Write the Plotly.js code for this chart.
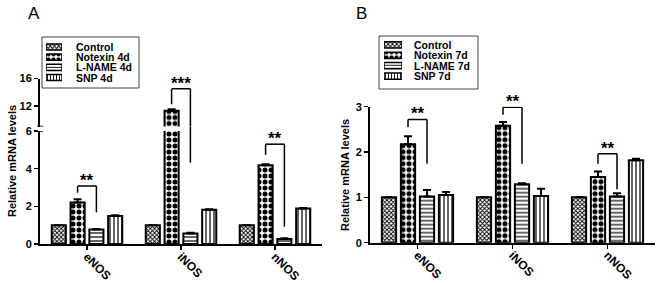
<!DOCTYPE html>
<html><head><meta charset="utf-8">
<script src="https://cdn.plot.ly/plotly-3.0.1.min.js"></script>
<style>html,body{margin:0;padding:0;background:#fff}#plot{width:664px;height:284px}</style>
</head><body><div id="plot"></div>
<script>
// ---------- data ----------
const categories = ['eNOS', 'iNOS', 'nNOS'];
const groupsA = ['Control', 'Notexin 4d', 'L-NAME 4d', 'SNP 4d'];
const groupsB = ['Control', 'Notexin 7d', 'L-NAME 7d', 'SNP 7d'];

const controlA = [1.0, 1.0, 1.0];
const notexinA = [2.2, 11.3, 4.18];
const lnameA   = [0.77, 0.56, 0.27];
const snpA     = [1.49, 1.82, 1.88];
const controlAErr = [0, 0, 0];
const notexinAErr = [0.17, 0.2, 0.05];
const lnameAErr   = [0.03, 0.04, 0.03];
const snpAErr     = [0.03, 0.03, 0.03];

const controlB = [1.0, 1.0, 1.0];
const notexinB = [2.17, 2.58, 1.45];
const lnameB   = [1.02, 1.29, 1.02];
const snpB     = [1.05, 1.03, 1.82];
const controlBErr = [0, 0, 0];
const notexinBErr = [0.18, 0.08, 0.12];
const lnameBErr   = [0.14, 0.02, 0.07];
const snpBErr     = [0.07, 0.16, 0.03];

// significance brackets: [category index, top, left-leg bottom, right-leg bottom, star label]
const sigA = [
  [0, 3.08, 2.72, 1.68, '**'],
  [2, 5.3, 4.73, 0.92, '**']
];
const sigAUpper = [1, 14.5, 12.25, 4.32, '***']; // iNOS bracket spans the axis break
const sigB = [
  [0, 2.72, 2.55, 1.74, '**'],
  [1, 2.99, 2.82, 1.74, '**'],
  [2, 1.96, 1.74, 1.18, '**']
];
const legendRows = [0, 1, 2, 3];

// ---------- styling ----------
const W = 664, H = 284;
const px = v => v / W, py = v => 1 - v / H;
const FONT = 'Liberation Sans, Arial, sans-serif';
const patterns = [
  {shape: 'x', size: 3, solidity: 0.5},
  {shape: '.', size: 6, solidity: 0.55},
  {shape: '-', size: 4, solidity: 0.3},
  {shape: '|', size: 4, solidity: 0.3}
];
const bargap = 0.2, bargroupgap = 0.25;
const slot = (1 - bargap) / 4;
const offsetOf = i => -(1 - bargap) / 2 + slot * (i + 0.5);

function barTrace(name, x, y, err, idx, xa, ya) {
  return {
    type: 'bar', name: name, x: x, y: y, xaxis: xa, yaxis: ya, showlegend: false,
    marker: {color: 'white', line: {color: 'black', width: 2},
      pattern: Object.assign({fgcolor: 'black', bgcolor: 'white', fillmode: 'replace'}, patterns[idx])},
    error_y: {type: 'data', array: err, arrayminus: err.map(() => 0), symmetric: false,
      color: 'black', thickness: 2, width: 4, visible: true},
    hoverinfo: 'skip'
  };
}

const traces = [];
const seriesA = [controlA, notexinA, lnameA, snpA];
const errA = [controlAErr, notexinAErr, lnameAErr, snpAErr];
const seriesB = [controlB, notexinB, lnameB, snpB];
const errB = [controlBErr, notexinBErr, lnameBErr, snpBErr];
['y', 'y2'].forEach(ya => {
  seriesA.forEach((s, i) => traces.push(barTrace(groupsA[i], categories, s, errA[i], i, 'x', ya)));
});
seriesB.forEach((s, i) => traces.push(barTrace(groupsB[i], categories, s, errB[i], i, 'x2', 'y3')));

// legend swatches drawn as small horizontal bars
function swatchTrace(xa, ya) {
  return {
    type: 'bar', orientation: 'h', x: legendRows.map(() => 1), y: legendRows, width: 0.6,
    xaxis: xa, yaxis: ya, showlegend: false, hoverinfo: 'skip',
    marker: {color: 'white', line: {color: 'black', width: 1.5},
      pattern: {fgcolor: 'black', bgcolor: 'white', fillmode: 'replace',
        shape: patterns.map(p => p.shape), size: [3, 5, 3, 3],
        solidity: patterns.map(p => p.solidity)}}
  };
}
traces.push(swatchTrace('x3', 'y4'));
traces.push(swatchTrace('x4', 'y5'));

const shapes = [];
const annotations = [];
const line = {color: 'black', width: 1.5};
function bracket(s, xa, ya, yaRight) {
  const c = s[0];
  const xl = c + offsetOf(1), xr = c + offsetOf(2);
  shapes.push({type: 'line', xref: xa, yref: ya, x0: xl, x1: xl, y0: s[2], y1: s[1], line: line});
  shapes.push({type: 'line', xref: xa, yref: ya, x0: xl, x1: xr, y0: s[1], y1: s[1], line: line});
  annotations.push({xref: xa, yref: ya, x: c, y: s[1], text: '<b>' + s[4] + '</b>', showarrow: false,
    font: {family: FONT, size: 17, color: 'black'}, xanchor: 'center', yanchor: 'middle', yshift: 5.5});
  if (!yaRight) shapes.push({type: 'line', xref: xa, yref: ya, x0: xr, x1: xr, y0: s[3], y1: s[1], line: line});
}
sigA.forEach(s => bracket(s, 'x', 'y'));
sigB.forEach(s => bracket(s, 'x2', 'y3'));
// iNOS bracket in panel A crosses the axis break
bracket(sigAUpper, 'x', 'y2', true);
(function () {
  const xr = sigAUpper[0] + offsetOf(2);
  shapes.push({type: 'line', xref: 'x', yref: 'y2', x0: xr, x1: xr, y0: 9, y1: sigAUpper[1], line: line});
  shapes.push({type: 'line', xref: 'x', yref: 'paper', x0: xr, x1: xr, y0: py(131), y1: py(126.5), line: line});
  shapes.push({type: 'line', xref: 'x', yref: 'y', x0: xr, x1: xr, y0: sigAUpper[3], y1: 6, line: line});
})();
// axis break marks
shapes.push({type: 'line', xref: 'paper', yref: 'y', x0: px(37), x1: px(43), y0: 6, y1: 6, line: line});
shapes.push({type: 'line', xref: 'paper', yref: 'y2', x0: px(37), x1: px(43), y0: 9, y1: 9, line: line});

// legend boxes
shapes.push({type: 'rect', xref: 'paper', yref: 'paper', x0: px(42), x1: px(139), y0: py(37), y1: py(88),
  line: {color: '#444', width: 1}});
shapes.push({type: 'rect', xref: 'paper', yref: 'paper', x0: px(379), x1: px(478), y0: py(36), y1: py(89),
  line: {color: '#444', width: 1}});
groupsA.forEach((g, i) => annotations.push({xref: 'paper', yref: 'y4', x: px(75), y: legendRows[i], text: '<b>' + g + '</b>',
  showarrow: false, xanchor: 'left', yanchor: 'middle', borderpad: 0, font: {family: FONT, size: 10.5, color: 'black'}}));
groupsB.forEach((g, i) => annotations.push({xref: 'paper', yref: 'y5', x: px(413), y: legendRows[i], text: '<b>' + g + '</b>',
  showarrow: false, xanchor: 'left', yanchor: 'middle', borderpad: 0, font: {family: FONT, size: 10.5, color: 'black'}}));

// y titles and panel labels
annotations.push({xref: 'paper', yref: 'paper', x: px(12), y: py(161), text: '<b>Relative mRNA levels</b>', textangle: -90,
  xanchor: 'center', yanchor: 'middle', showarrow: false, font: {family: FONT, size: 11, color: 'black'}});
annotations.push({xref: 'paper', yref: 'paper', x: px(345), y: py(175), text: '<b>Relative mRNA levels</b>', textangle: -90,
  xanchor: 'center', yanchor: 'middle', showarrow: false, font: {family: FONT, size: 11, color: 'black'}});
annotations.push({xref: 'paper', yref: 'paper', x: px(34), y: py(13), text: 'A', showarrow: false,
  xanchor: 'center', yanchor: 'middle', font: {family: FONT, size: 17, color: 'black'}});
annotations.push({xref: 'paper', yref: 'paper', x: px(361), y: py(13), text: 'B', showarrow: false,
  xanchor: 'center', yanchor: 'middle', font: {family: FONT, size: 17, color: 'black'}});

const xBase = {showline: true, linecolor: 'black', linewidth: 2, ticks: 'outside', ticklen: 4, tickwidth: 1.5,
  tickcolor: 'black', tickangle: 45, ticklabelstandoff: -5,
  tickfont: {family: FONT, size: 12, color: 'black', weight: 'bold'},
  showgrid: false, zeroline: false, range: [-0.5, 2.5], type: 'category', categoryarray: categories, fixedrange: true};
const yBase = {showline: true, linecolor: 'black', linewidth: 2, ticks: 'outside', ticklen: 4, tickwidth: 1.5,
  tickcolor: 'black', tickfont: {family: FONT, size: 11, color: 'black', weight: 'bold'},
  showgrid: false, zeroline: false, fixedrange: true};
const hidden = {visible: false, fixedrange: true, showgrid: false, zeroline: false};

const layout = {
  width: W, height: H, margin: {l: 0, r: 0, t: 0, b: 0}, paper_bgcolor: 'white', plot_bgcolor: 'white',
  barmode: 'group', bargap: bargap, bargroupgap: bargroupgap, showlegend: false,
  xaxis: Object.assign({}, xBase, {domain: [px(40), px(322)], anchor: 'y'}),
  yaxis: Object.assign({}, yBase, {domain: [py(244), py(131)], range: [0, 6], tickvals: [0, 2, 4, 6], anchor: 'x'}),
  yaxis2: Object.assign({}, yBase, {domain: [py(126.5), py(78.5)], range: [9, 16], tickvals: [12, 16], anchor: 'x'}),
  xaxis2: Object.assign({}, xBase, {domain: [px(370), px(655)], anchor: 'y3'}),
  yaxis3: Object.assign({}, yBase, {domain: [py(242.7), py(106.7)], range: [0, 3], tickvals: [0, 1, 2, 3], anchor: 'x2'}),
  xaxis3: Object.assign({}, hidden, {domain: [px(46), px(62)], range: [0, 1], anchor: 'y4'}),
  yaxis4: Object.assign({}, hidden, {domain: [py(82.6), py(41.9)], range: [3.5, -0.5], anchor: 'x3'}),
  xaxis4: Object.assign({}, hidden, {domain: [px(384), px(402)], range: [0, 1], anchor: 'y5'}),
  yaxis5: Object.assign({}, hidden, {domain: [py(81.2), py(39.8)], range: [3.5, -0.5], anchor: 'x4'}),
  shapes: shapes, annotations: annotations
};
Plotly.newPlot('plot', traces, layout, {staticPlot: true, displayModeBar: false});
</script></body></html>
